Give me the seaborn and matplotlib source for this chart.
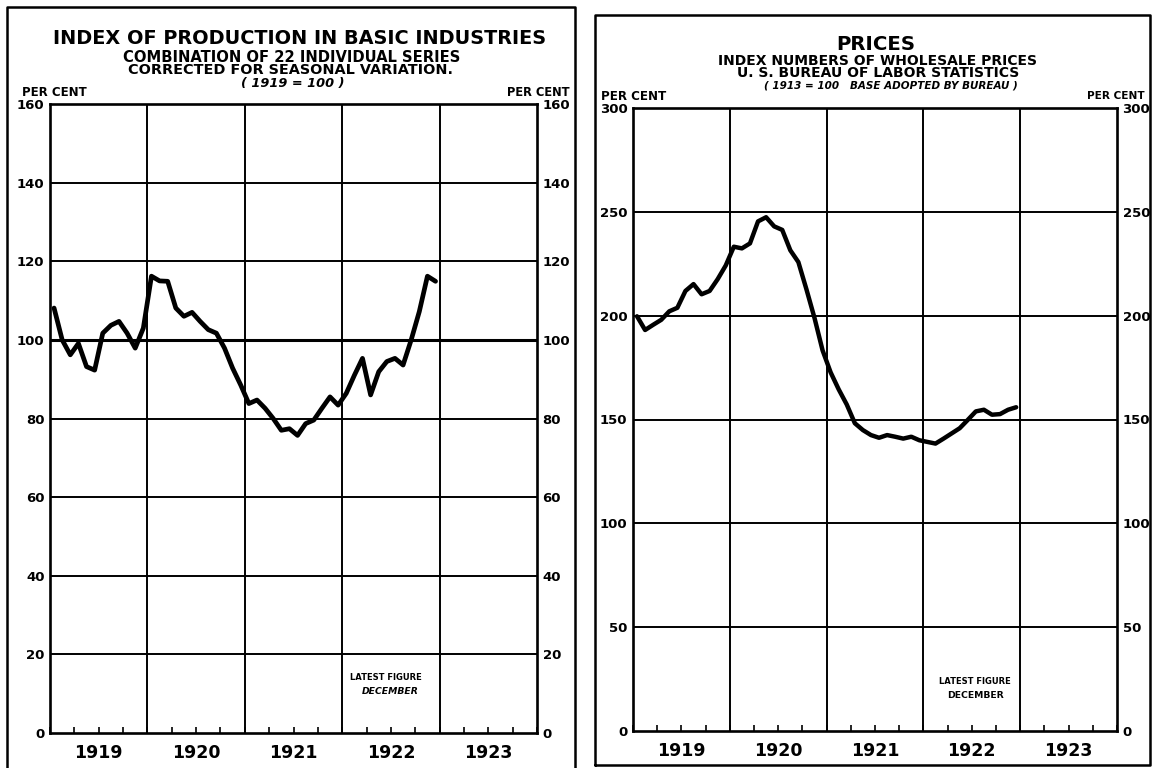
import numpy as np
import pandas as pd
import matplotlib
matplotlib.use("Agg")
import matplotlib.pyplot as plt
import seaborn as sns
from matplotlib import font_manager
from matplotlib.lines import Line2D
from matplotlib.ticker import MultipleLocator

# ---------------- data ----------------
years = [1919, 1920, 1921, 1922, 1923]
dates = pd.date_range("1919-01-01", "1922-12-01", freq="MS")

production = [108.1, 100.0, 96.2, 99.1, 93.2, 92.3, 101.7, 103.7, 104.7, 101.7, 97.9, 103.0,
              116.2, 115.0, 114.9, 108.1, 106.0, 107.0, 104.7, 102.6, 101.7, 97.9, 92.8, 88.5,
              83.8, 84.7, 82.6, 80.0, 77.0, 77.4, 75.7, 78.7, 79.6, 82.6, 85.5, 83.4,
              86.4, 91.0, 95.3, 86.0, 91.9, 94.5, 95.3, 93.6, 100.0, 107.2, 116.2, 114.9]

prices = [199.7, 193.1, 195.6, 198.0, 202.1, 203.8, 211.9, 215.2, 210.3, 211.9, 217.6, 224.2,
          233.2, 232.4, 234.8, 245.4, 247.4, 243.0, 241.3, 231.5, 225.8, 212.7, 198.9, 183.3,
          172.7, 164.5, 157.2, 148.2, 144.9, 142.5, 141.2, 142.5, 141.7, 140.8, 141.7, 140.0,
          139.2, 138.4, 140.8, 143.3, 145.8, 149.8, 153.9, 154.7, 152.3, 152.6, 154.7, 155.9]

year_labels = [str(y) for y in years]
prod_ticks = [0, 20, 40, 60, 80, 100, 120, 140, 160]
price_ticks = [0, 50, 100, 150, 200, 250, 300]

left_title = "INDEX OF PRODUCTION IN BASIC INDUSTRIES"
left_sub1 = "COMBINATION OF 22 INDIVIDUAL SERIES"
left_sub2 = "CORRECTED FOR SEASONAL VARIATION."
left_base = "( 1919 = 100 )"
right_title = "PRICES"
right_sub1 = "INDEX NUMBERS OF WHOLESALE PRICES"
right_sub2 = "U. S. BUREAU OF LABOR STATISTICS"
right_base = "( 1913 = 100   BASE ADOPTED BY BUREAU )"
unit_label = "PER CENT"
note_lines = ["LATEST FIGURE", "DECEMBER"]

# ---------------- style ----------------
sns.set_style("white")
names = {f.name for f in font_manager.fontManager.ttflist}
NARROW = "Liberation Sans Narrow" if "Liberation Sans Narrow" in names else "DejaVu Sans"
plt.rcParams["font.family"] = ["DejaVu Sans"]
plt.rcParams["font.weight"] = "bold"
plt.rcParams["text.color"] = "black"
plt.rcParams["xtick.color"] = "black"
plt.rcParams["ytick.color"] = "black"
plt.rcParams["axes.labelcolor"] = "black"

W, H = 1159, 768
fig = plt.figure(figsize=(W / 100, H / 100), dpi=100)
fig.patch.set_facecolor("white")


def ax_rect(x0, y0, x1, y1):
    return [x0 / W, 1 - y1 / H, (x1 - x0) / W, (y1 - y0) / H]


ax1 = fig.add_axes(ax_rect(50, 104, 537, 733))
ax2 = fig.add_axes(ax_rect(633, 108, 1117, 731))

t = dates.year + (dates.month - 0.5) / 12.0
df_prod = pd.DataFrame({"t": t, "value": production})
df_price = pd.DataFrame({"t": t, "value": prices})

sns.lineplot(data=df_prod, x="t", y="value", ax=ax1, color="black", linewidth=3.4,
             zorder=5)
sns.lineplot(data=df_price, x="t", y="value", ax=ax2, color="black", linewidth=3.2,
             zorder=5)


def setup(ax, ticks, base=None):
    ax.set_xlim(years[0], years[-1] + 1)
    ax.set_ylim(ticks[0], ticks[-1])
    ax.set_yticks(ticks)
    ax.set_yticklabels([str(v) for v in ticks])
    for v in ticks[1:-1]:
        ax.axhline(v, color="black", lw=2.2 if v == base else 1.4, zorder=2)
    for yr in years[1:]:
        ax.axvline(yr, color="black", lw=1.4, zorder=2)
    ax.set_xticks([yr + 0.5 for yr in years])
    ax.set_xticklabels(year_labels)
    ax.xaxis.set_minor_locator(MultipleLocator(0.25))
    ax.xaxis.remove_overlapping_locs = False
    ax.tick_params(axis="x", which="major", length=0, pad=8, labelsize=12.5)
    ax.tick_params(axis="x", which="minor", direction="in", length=4, width=1.2,
                   bottom=True, top=False, color="black")
    ax.tick_params(axis="y", which="major", length=0, left=False, right=False,
                   labelleft=True, labelright=True, pad=4, labelsize=9.5)
    for lab in ax.get_xticklabels() + ax.get_yticklabels():
        lab.set_fontweight("bold")
        lab.set_color("black")
    for s in ax.spines.values():
        s.set_linewidth(1.9)
        s.set_color("black")
        s.set_visible(True)
    ax.set_xlabel("")
    ax.set_ylabel("")
    ax.grid(False)


setup(ax1, prod_ticks, base=100)
setup(ax2, price_ticks)

renderer = fig.canvas.get_renderer()


def fit_text(cx, cy, s, width_px, family=NARROW, style="normal"):
    txt = fig.text(cx / W, 1 - cy / H, s, ha="center", va="center", fontsize=12,
                   fontweight="bold", family=[family, "DejaVu Sans"], style=style,
                   color="black")
    w = txt.get_window_extent(renderer).width
    txt.set_fontsize(12 * width_px / w)
    return txt


fit_text(300, 38, left_title, 492)
fit_text(292, 57, left_sub1, 335)
fit_text(291, 70, left_sub2, 324)
fit_text(293, 83, left_base, 103, style="italic")
fit_text(54, 92, unit_label, 64)
fit_text(538, 92, unit_label, 63)

fit_text(876, 44, right_title, 79)
fit_text(877, 61, right_sub1, 318)
fit_text(878, 73, right_sub2, 280)
fit_text(891, 85, right_base, 254, style="italic")
fit_text(634, 96, unit_label, 65)
fit_text(1116, 96, unit_label, 57)

fit_text(386, 678, note_lines[0], 72)
fit_text(390, 691, note_lines[1], 57, style="italic")
fit_text(975, 682, note_lines[0], 72)
fit_text(975, 695, note_lines[1], 57)

# panel frames
def fline(xs, ys, lw=1.8):
    fig.add_artist(Line2D([x / W for x in xs], [1 - y / H for y in ys],
                          transform=fig.transFigure, color="black", lw=lw))

fline([7, 7, 575, 575], [768, 7, 7, 768])
fline([595, 595, 1150, 1150, 595], [765, 15, 15, 765, 765])

fig.savefig("out.png", dpi=100, facecolor="white")
